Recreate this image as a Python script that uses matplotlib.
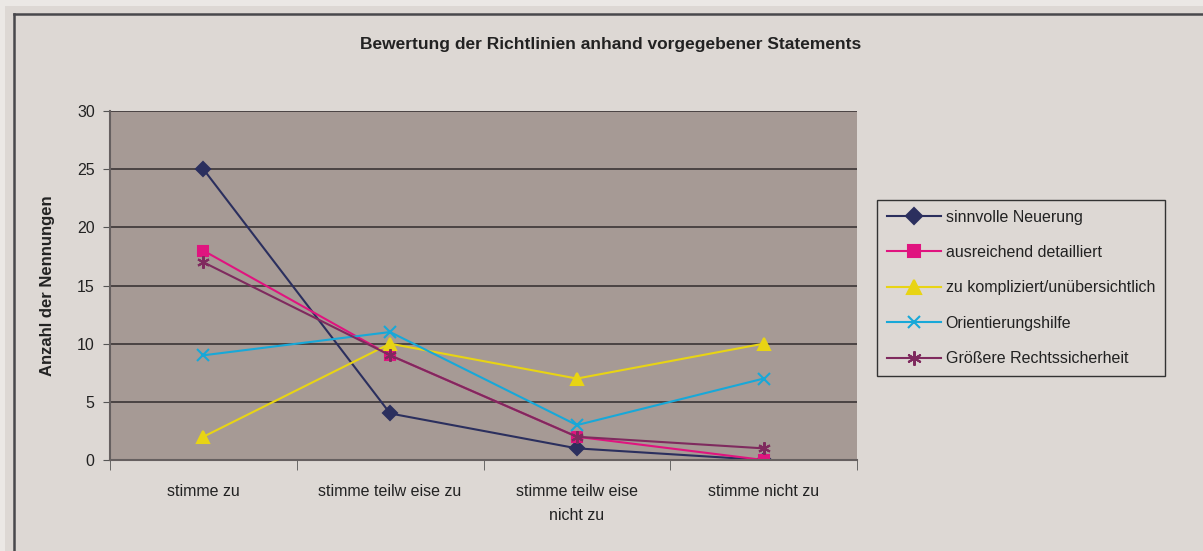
import numpy as np
import matplotlib.pyplot as plt
from matplotlib.patches import Rectangle
from matplotlib.lines import Line2D

plt.rcParams['font.family'] = ['Liberation Sans', 'DejaVu Sans']

categories = ["stimme zu", "stimme teilw eise zu", "stimme teilw eise\nnicht zu", "stimme nicht zu"]
sinnvoll = [25, 4, 1, 0]
ausreichend = [18, 9, 2, 0]
kompliziert = [2, 10, 7, 10]
orientierung = [9, 11, 3, 7]
rechtssicherheit = [17, 9, 2, 1]

series = [
    ("sinnvolle Neuerung", sinnvoll, "#2b2f5e", "D", 7),
    ("ausreichend detailliert", ausreichend, "#e0147f", "s", 7),
    ("zu kompliziert/unübersichtlich", kompliziert, "#e8d414", "^", 9),
    ("Orientierungshilfe", orientierung, "#18a8d8", "x", 8),
    ("Größere Rechtssicherheit", rechtssicherheit, "#7f2a5e", (6, 2, 0), 9),
]

W, H = 1203, 551
bg = "#ddd8d4"
fig = plt.figure(figsize=(12.03, 5.51), dpi=100, facecolor="#ebe8e5")
# chart area background and its top / left border
fig.patches.append(Rectangle((5 / W, 0), 1, 1 - 6 / H, transform=fig.transFigure,
                             facecolor=bg, edgecolor="none", zorder=-10))
fig.lines.append(Line2D([14 / W, 1], [1 - 14 / H, 1 - 14 / H], transform=fig.transFigure,
                        color="#48484c", lw=1.8))
fig.lines.append(Line2D([14 / W, 14 / W], [0, 1 - 14 / H], transform=fig.transFigure,
                        color="#48484c", lw=1.8))

ax = fig.add_axes([110 / W, 1 - 460 / H, 747 / W, 349 / H])
ax.set_facecolor("#a69a95")
x = np.arange(len(categories))
for name, vals, col, mk, ms in series:
    ax.plot(x, vals, color=col, marker=mk, markersize=ms, lw=1.5, label=name,
            markeredgecolor=col, markeredgewidth=1.5)

ax.set_xlim(-0.5, len(categories) - 0.5)
ax.set_ylim(0, 30)
ax.set_yticks(range(0, 31, 5))
ax.yaxis.grid(True, color="#3a3535", lw=1.2)
ax.set_axisbelow(True)
ax.set_xticks(x)
ax.set_xticklabels(categories, fontsize=11.5, color="#222222", linespacing=1.75)
ax.set_xticks(np.arange(-0.5, len(categories)), minor=True)
ax.tick_params(axis="x", which="major", length=0, pad=17)
ax.tick_params(axis="x", which="minor", length=7, color="#555555", direction="out")
ax.tick_params(axis="y", labelsize=11.5, labelcolor="#222222", length=5, color="#555555", pad=6)
for s in ["top", "right"]:
    ax.spines[s].set_visible(False)
for s in ["left", "bottom"]:
    ax.spines[s].set_color("#666060")
    ax.spines[s].set_linewidth(1.5)

ax.set_ylabel("Anzahl der Nennungen", fontsize=12, fontweight="bold", color="#222222", labelpad=16)
fig.text(0.508, 1 - 44 / H, "Bewertung der Richtlinien anhand vorgegebener Statements",
         ha="center", va="center", fontsize=12.5, fontweight="bold", color="#222222")

leg = ax.legend(loc="upper left", bbox_to_anchor=(877 / W, 1 - 200 / H),
                bbox_transform=fig.transFigure, fontsize=11.5, frameon=True, fancybox=False,
                facecolor=bg, edgecolor="#333333", framealpha=1, labelspacing=1.28,
                handlelength=3.4, borderpad=0.6, handletextpad=0.3, borderaxespad=0,
                markerscale=1.15)
leg.get_frame().set_linewidth(1.0)
for t in leg.get_texts():
    t.set_color("#222222")

fig.savefig("out.png", dpi=100, facecolor=fig.get_facecolor())
